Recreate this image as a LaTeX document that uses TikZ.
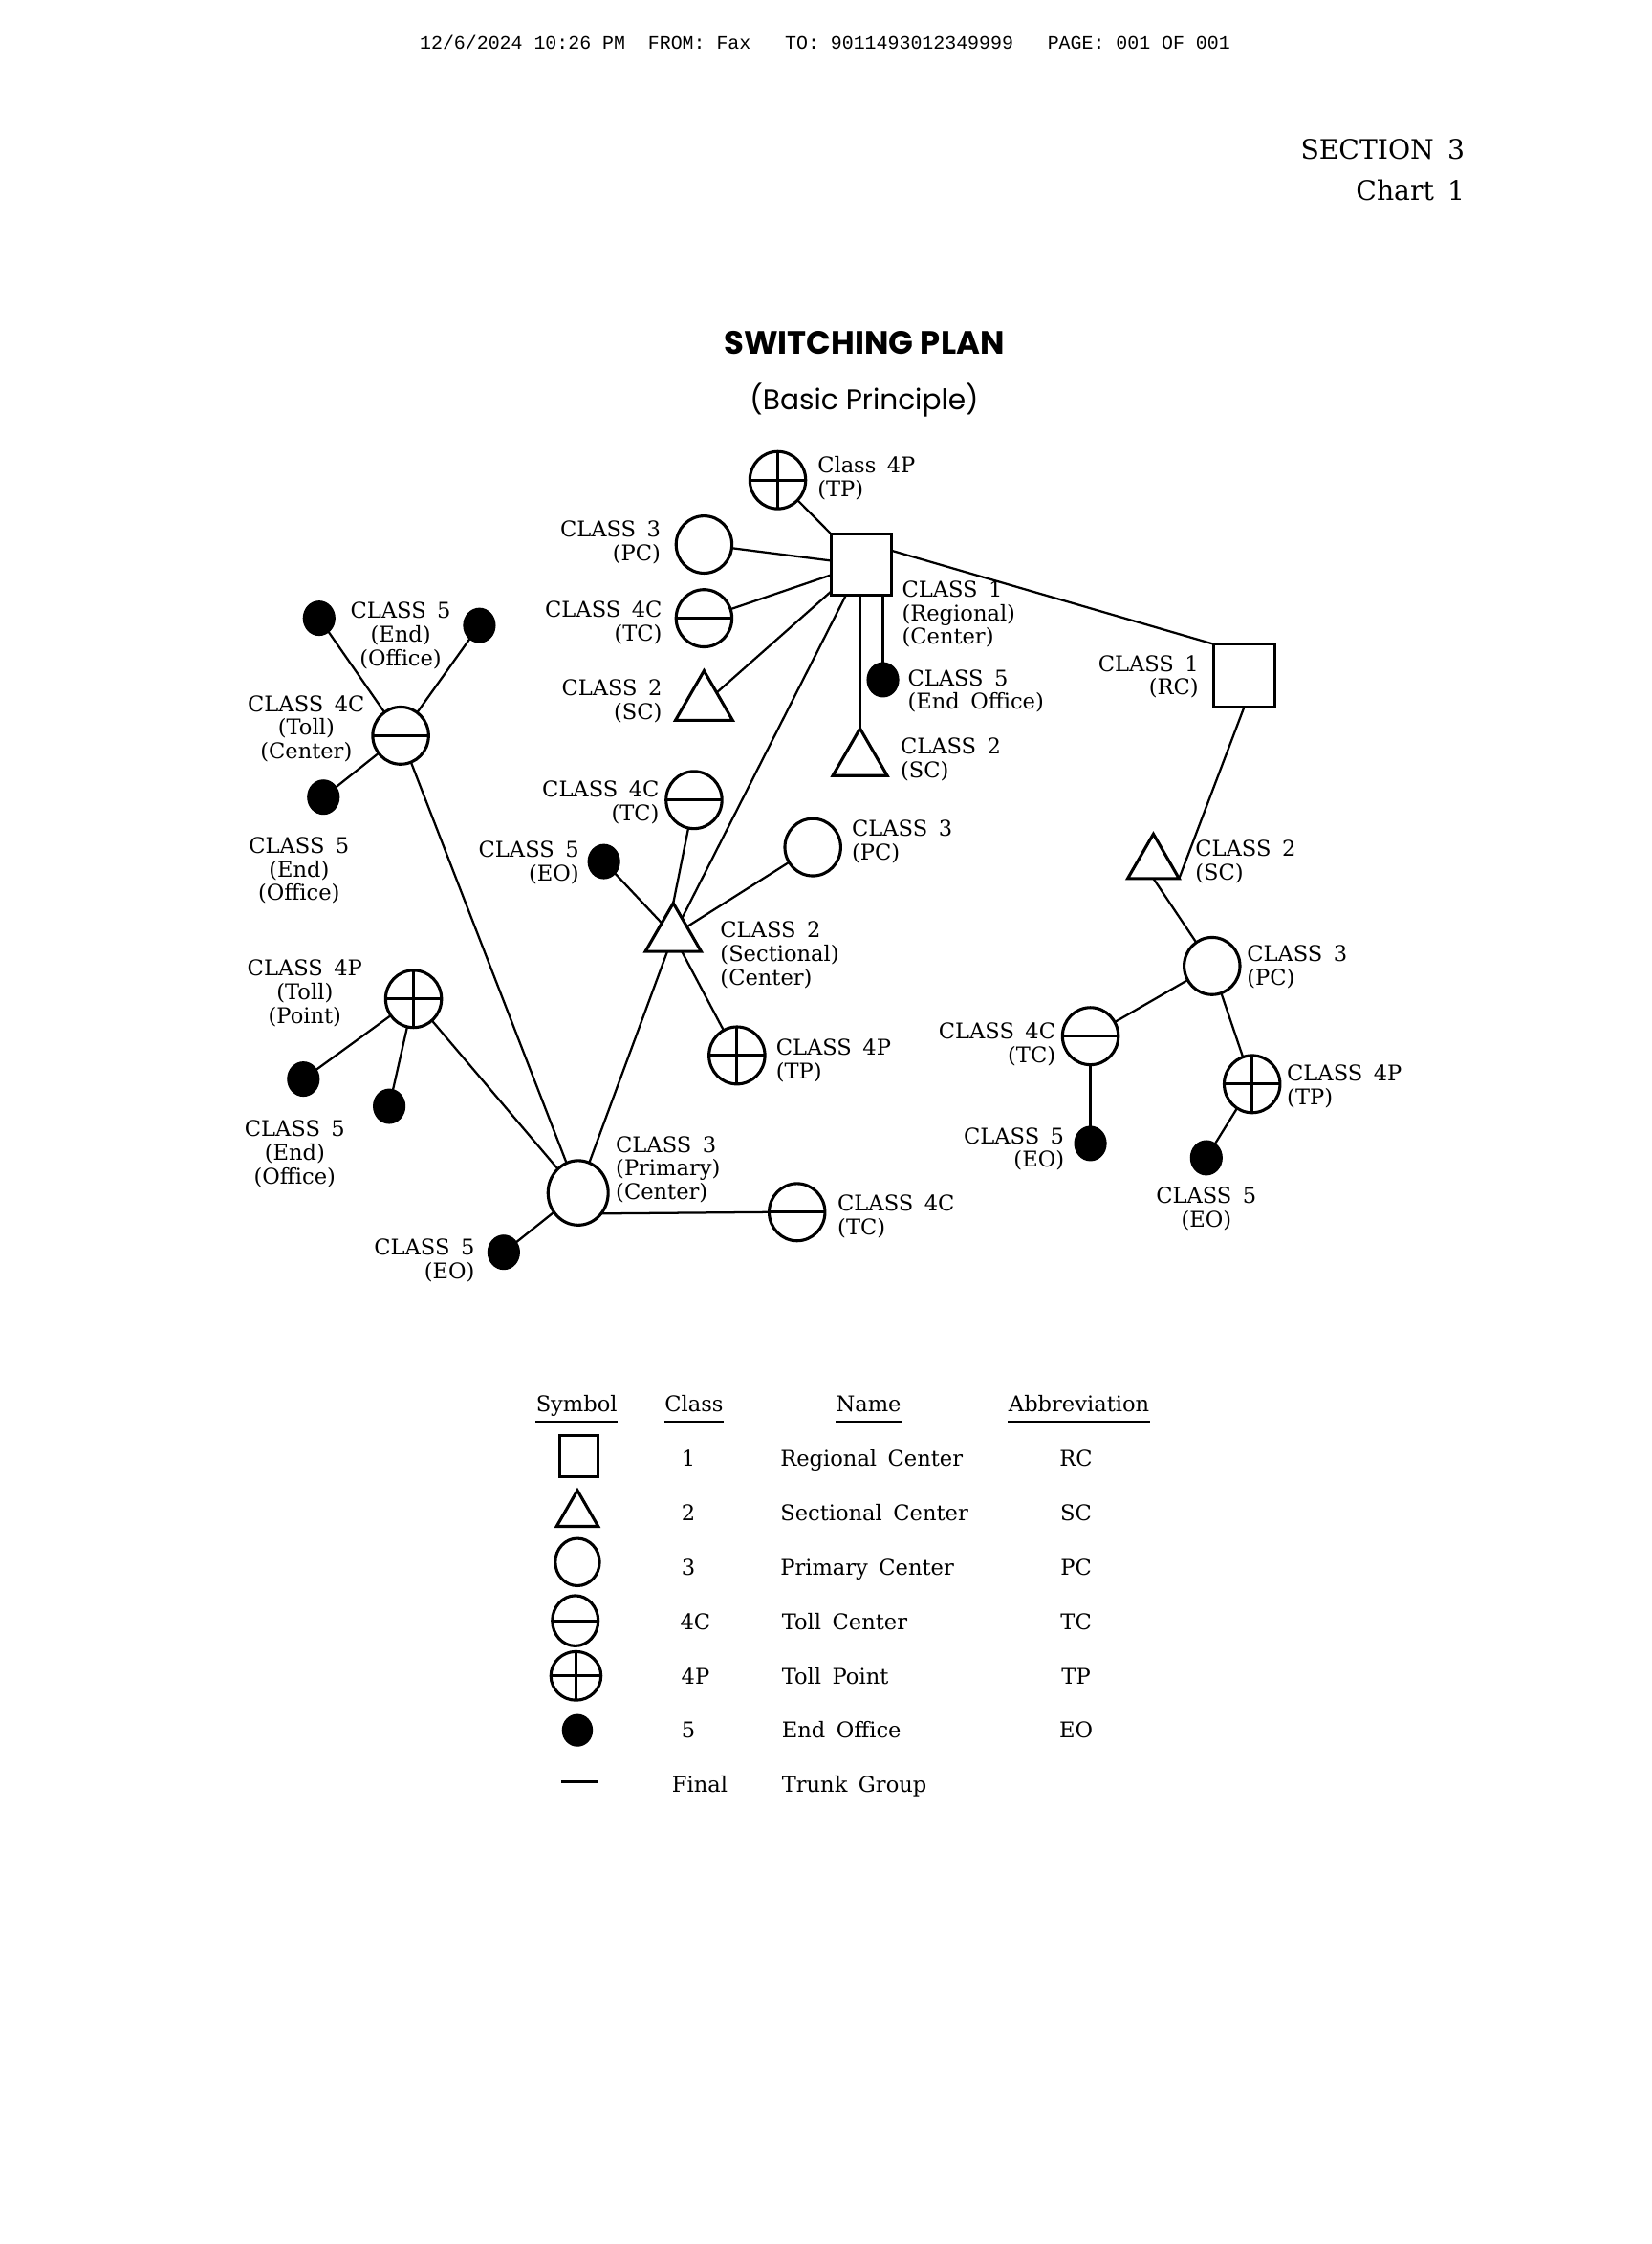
\documentclass[tikz,border=0pt]{standalone}
\usepackage{fontspec}
\setmainfont{DejaVu Serif}[WordSpace=1.6]
\newfontfamily\faxfont{Liberation Mono}
\newfontfamily\titlefont{Poppins}
\usetikzlibrary{shapes.geometric}
\tikzset{
  net/.style={line width=0.8pt},
  shp/.style={draw, line width=1.1pt, inner sep=0pt, outer sep=0pt, fill=white},
  pc/.style={shp, ellipse, minimum width=20.7pt, minimum height=21.2pt},
  tc/.style={pc, path picture={\draw[line width=1.1pt] (path picture bounding box.west) -- (path picture bounding box.east);}},
  tp/.style={pc, path picture={\draw[line width=1.1pt] (path picture bounding box.west) -- (path picture bounding box.east) (path picture bounding box.north) -- (path picture bounding box.south);}},
  eo/.style={draw, ellipse, fill=black, line width=0.4pt, inner sep=0pt, outer sep=0pt, minimum width=11.7pt, minimum height=12.7pt},
  rcbox/.style={shp, rectangle, minimum width=22.3pt, minimum height=22.8pt},
  sc/.style={shp, regular polygon, regular polygon sides=3, minimum size=#1},
  lbl/.style={font=\fontsize{8}{8.8}\selectfont, inner sep=0pt},
  ll/.style={lbl, align=left, anchor=north west},
  lr/.style={lbl, align=right, anchor=north east},
  lc/.style={lbl, align=center, anchor=north},
  lg/.style={font=\fontsize{8}{9}\selectfont, inner sep=0pt, anchor=base},
  hd/.style={lg, text depth=3.4pt},
}
\begin{document}
\begin{tikzpicture}[x=0.53033pt, y=-0.53033pt]
\fill[white] (0,0) rectangle (1154,1568);
\useasboundingbox (0,0) rectangle (1154,1568);

% header
\node[font=\faxfont\fontsize{7.05}{8}\selectfont, inner sep=0pt, anchor=base west] (fax) at (293,34.5)
  {12/6/2024 10:26 PM~~FROM: Fax~~~TO: 9011493012349999~~~PAGE: 001 OF 001};
\node[font=\fontsize{10}{12}\selectfont, inner sep=0pt, anchor=base east] (sec) at (1024,111) {SECTION 3};
\node[font=\fontsize{10}{12}\selectfont, inner sep=0pt, anchor=base east] (chart) at (1024,140) {Chart 1};
\node[font=\titlefont\bfseries\fontsize{12}{14}\selectfont, inner sep=0pt, anchor=base] (title) at (604,247.5) {SWITCHING PLAN};
\node[font=\titlefont\fontsize{10.5}{13}\selectfont, inner sep=0pt, anchor=base] (subtitle) at (604,286) {(Basic Principle)};

% ---- top cluster ----
\node[tp] (A) at (543.5,335.5) {};
\node[rcbox] (B) at (602,394.5) {};
\node[pc] (C) at (492,380.5) {};
\node[tc] (D) at (492,432) {};
\node[sc=24.5pt] (E) at (492,491.8) {};
\node[eo] (F) at (617,475) {};
\node[sc=23.3pt] (G) at (601,531) {};
\node[shp, rectangle, minimum width=22.8pt, minimum height=23.3pt] (H) at (869.5,472) {};
\node[sc=22.0pt] (I) at (806,603.5) {};
\node[pc] (J) at (847,675) {};
\node[tc] (K) at (762,724) {};
\node[tp] (L) at (875,757.5) {};
\node[eo] (M) at (762,799) {};
\node[eo] (N) at (843,809) {};

% ---- left cluster ----
\node[tc] (O) at (280,514) {};
\node[eo] (P) at (223,432) {};
\node[eo] (Q) at (335,437) {};
\node[eo] (R) at (226,557) {};
\node[tp] (S) at (289,698) {};
\node[eo] (T) at (212,754) {};
\node[eo] (U) at (272,773) {};
\node[shp, ellipse, minimum width=22.3pt, minimum height=23.9pt] (V) at (404,833.5) {};
\node[eo] (W) at (352,875) {};
\node[tc] (X) at (557,847) {};

% ---- sectional cluster ----
\node[sc=23.9pt] (Y) at (470.5,653.6) {};
\node[tc] (Z1) at (485,559) {};
\node[eo] (Z2) at (422,602) {};
\node[pc] (Z3) at (568,592) {};
\node[tp] (Z4) at (515,737.5) {};

% ---- connectors ----
\begin{scope}[net]
\draw (A) -- (B);
\draw (C) -- (B);
\draw (D) -- (B);
\draw (E) -- (B);
\draw (B.south -| F) -- (F);
\draw (B.south -| G.corner 1) -- (G.corner 1);
\draw (B) -- (Y);
\draw (B.25) -- (H.north west);
\draw (H.south) -- (I.corner 3);
\draw (I.side 2) -- (J);
\draw (J) -- (K);
\draw (J) -- (L);
\draw (K) -- (M);
\draw (L) -- (N);
\draw (O) -- (P);
\draw (O) -- (Q);
\draw (O) -- (R);
\draw (O) -- (V);
\draw (S) -- (T);
\draw (S) -- (U);
\draw (S) -- (V);
\draw (V) -- (W);
\draw (V.-42) -- (X.west);
\draw (Y) -- (V);
\draw (Y.corner 1) -- (Z1);
\draw (Z2) -- (Y);
\draw (Y) -- (Z3);
\draw (Y) -- (Z4);
\end{scope}

% ---- labels ----
\node[ll] (lA) at (571,318.5) {Class 4P\\(TP)};
\node[lr] (lC) at (462,363.5) {CLASS 3\\(PC)};
\node[lr] (lD) at (463,419.5) {CLASS 4C\\(TC)};
\node[lr] (lE) at (463,474.5) {CLASS 2\\(SC)};
\node[ll] (lB) at (630,405.5) {CLASS 1\\(Regional)\\(Center)};
\node[ll] (lF) at (634,467.5) {CLASS 5\\(End Office)};
\node[ll] (lG) at (629,515.5) {CLASS 2\\(SC)};
\node[lr] (lH) at (838,457.5) {CLASS 1\\(RC)};
\node[ll] (lI) at (835,586.5) {CLASS 2\\(SC)};
\node[ll] (lJ) at (871,660.5) {CLASS 3\\(PC)};
\node[lr] (lK) at (738,714.5) {CLASS 4C\\(TC)};
\node[ll] (lL) at (899,743.5) {CLASS 4P\\(TP)};
\node[lr] (lM) at (744,787.5) {CLASS 5\\(EO)};
\node[lc] (lN) at (843,829.5) {CLASS 5\\(EO)};
\node[lc] (lO) at (214,485.5) {CLASS 4C\\(Toll)\\(Center)};
\node[lc] (lPQ) at (280,420.5) {CLASS 5\\(End)\\(Office)};
\node[lc] (lR) at (209,584.5) {CLASS 5\\(End)\\(Office)};
\node[lc] (lS) at (213,670.5) {CLASS 4P\\(Toll)\\(Point)};
\node[lc] (lTU) at (206,782.5) {CLASS 5\\(End)\\(Office)};
\node[ll] (lV) at (430,793.5) {CLASS 3\\(Primary)\\(Center)};
\node[lr] (lW) at (332,865.5) {CLASS 5\\(EO)};
\node[ll] (lX) at (585,834.5) {CLASS 4C\\(TC)};
\node[ll] (lY) at (503,643.5) {CLASS 2\\(Sectional)\\(Center)};
\node[lr] (lZ1) at (461,545.5) {CLASS 4C\\(TC)};
\node[lr] (lZ2) at (405,587.5) {CLASS 5\\(EO)};
\node[ll] (lZ3) at (595,572.5) {CLASS 3\\(PC)};
\node[ll] (lZ4) at (542,725.5) {CLASS 4P\\(TP)};

% ---- legend ----
\node[hd] (hSym) at (403,986.5) {Symbol};
\node[hd] (hCls) at (485,986.5) {Class};
\node[hd] (hNam) at (607,986.5) {Name};
\node[hd] (hAbb) at (754,986.5) {Abbreviation};
\foreach \h in {hSym,hCls,hNam,hAbb}
  \draw[line width=0.9pt] (\h.south west) -- (\h.south east);

\node[shp, rectangle, minimum width=14.3pt, minimum height=15.4pt] (k1) at (404.5,1017.5) {};
\node[sc=17.8pt] (k2) at (403.5,1058.2) {};
\node[shp, ellipse, minimum width=16.4pt, minimum height=17.5pt] (k3) at (403.5,1091.5) {};
\node[tc, minimum width=17pt, minimum height=18.6pt] (k4) at (402,1132.5) {};
\node[tp, minimum width=18.6pt, minimum height=18pt] (k5) at (402.5,1171) {};
\node[eo, minimum width=11.1pt, minimum height=11.7pt] (k6) at (403.5,1209) {};
\coordinate (k7a) at (392,1245);
\coordinate (k7b) at (418,1245);
\draw[line width=0.9pt] (k7a) -- (k7b);

\node[lg] (c1) at (481,1024.5) {1};
\node[lg] (c2) at (481,1062.5) {2};
\node[lg] (c3) at (481,1100.5) {3};
\node[lg] (c4) at (486,1138.5) {4C};
\node[lg] (c5) at (486,1176.5) {4P};
\node[lg] (c6) at (481,1214.5) {5};
\node[lg] (c7) at (489,1252.5) {Final};

\node[lg, anchor=base west] (n1) at (545,1024.5) {Regional Center};
\node[lg, anchor=base west] (n2) at (545,1062.5) {Sectional Center};
\node[lg, anchor=base west] (n3) at (545,1100.5) {Primary Center};
\node[lg, anchor=base west] (n4) at (546,1138.5) {Toll Center};
\node[lg, anchor=base west] (n5) at (546,1176.5) {Toll Point};
\node[lg, anchor=base west] (n6) at (546,1214.5) {End Office};
\node[lg, anchor=base west] (n7) at (546,1252.5) {Trunk Group};

\node[lg] (a1) at (752,1024.5) {RC};
\node[lg] (a2) at (752,1062.5) {SC};
\node[lg] (a3) at (752,1100.5) {PC};
\node[lg] (a4) at (752,1138.5) {TC};
\node[lg] (a5) at (752,1176.5) {TP};
\node[lg] (a6) at (752,1214.5) {EO};
\end{tikzpicture}
\end{document}
